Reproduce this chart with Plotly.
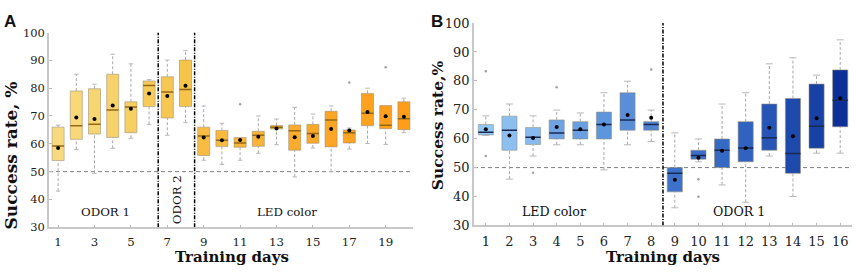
import plotly.graph_objects as go

# ---------------- Panel A data ----------------
days_a = list(range(1, 21))
q1_a = [54.0, 61.6, 63.5, 62.3, 64.0, 73.4, 69.3, 73.4, 55.8, 59.0, 58.75, 59.1, 65.3, 57.7, 60.2, 58.9, 60.3, 66.5, 65.45, 65.1]
med_a = [59.2, 66.5, 67.0, 72.2, 73.2, 81.0, 78.6, 79.5, 62.8, 61.25, 60.3, 63.1, 66.0, 64.7, 63.75, 68.6, 64.0, 71.0, 66.7, 69.0]
q3_a = [66.0, 79.0, 79.8, 85.0, 75.1, 82.6, 84.1, 90.1, 66.0, 64.8, 62.3, 64.5, 66.6, 66.8, 67.0, 71.7, 65.0, 78.1, 73.75, 75.1]
mean_a = [58.5, 69.5, 68.9, 73.75, 72.6, 78.1, 77.2, 80.9, 62.3, 61.25, 61.4, 62.5, 65.5, 62.4, 62.8, 65.3, 64.8, 71.4, 69.9, 69.7]
upper_a = [66.7, 85.0, 81.4, 92.2, 88.75, 83.1, 90.1, 93.5, 73.6, 67.4, 62.3, 70.0, 68.9, 73.1, 70.7, 73.6, 65.7, 80.0, 73.75, 76.4]
lower_a = [43.0, 58.0, 49.4, 58.4, 62.0, 67.0, 63.1, 67.6, 54.1, 52.6, 54.1, 56.6, 59.7, 48.1, 58.5, 50.0, 58.1, 60.1, 59.8, 64.0]
out_day_a = [11, 17, 19]
out_val_a = [74.2, 82.0, 87.5]
colors_a = ["#F8DA7E", "#F8D878", "#F7D571", "#F7D26A", "#F7CF62", "#F6CB5A", "#F6C752", "#F6C34B",
            "#F9BC42", "#F9B83E", "#FAB53A", "#FBB236", "#FCAF31", "#FCAB2C", "#FDA928", "#FDA625",
            "#FEA422", "#FEA11E", "#FF9F1B", "#FF9D18"]
phase_bounds_a = [6.5, 8.5]
xticks_a = [1, 3, 5, 7, 9, 11, 13, 15, 17, 19]

# ---------------- Panel B data ----------------
days_b = list(range(1, 17))
q1_b = [61.3, 56.0, 58.0, 59.9, 59.9, 59.9, 62.9, 62.9, 41.6, 52.9, 50.0, 52.0, 56.0, 48.0, 56.7, 64.1]
med_b = [62.2, 62.9, 60.5, 62.0, 62.9, 64.9, 66.5, 64.9, 48.0, 54.2, 56.0, 56.8, 60.3, 54.9, 64.3, 73.3]
q3_b = [64.9, 67.8, 63.9, 66.5, 65.9, 69.2, 75.9, 65.9, 50.0, 56.0, 59.9, 65.9, 72.0, 73.9, 78.9, 83.8]
mean_b = [63.3, 61.1, 60.2, 64.0, 63.3, 64.9, 68.2, 67.2, 45.8, 53.4, 55.8, 56.7, 63.8, 60.8, 67.1, 74.0]
upper_b = [67.9, 72.0, 67.9, 69.9, 68.9, 75.9, 79.9, 69.9, 62.0, 59.9, 72.0, 75.9, 85.9, 88.0, 82.0, 94.2]
lower_b = [61.1, 46.0, 54.0, 57.9, 57.9, 49.2, 57.9, 59.0, 36.1, 52.0, 44.0, 38.0, 54.0, 40.0, 55.0, 55.0]
out_day_b = [1, 1, 3, 4, 8, 10, 10]
out_val_b = [83.3, 54.0, 48.2, 77.8, 83.9, 46.0, 39.9]
colors_b = ["#90C8F4", "#8CBFEF", "#88BAEE", "#6EA4E3", "#6AA0E2", "#5E96DD", "#5A8ED8", "#4E84D2",
            "#3C72CA", "#3A6EC8", "#3469C4", "#3063C0", "#2755B7", "#1E4AAE", "#1741A5", "#0C3097"]
phase_bounds_b = [8.5]
xticks_b = list(range(1, 17))

chance_level = 50
y_range = [30, 100]
y_ticks = [30, 40, 50, 60, 70, 80, 90, 100]

W, H = 856, 275
SERIF = "DejaVu Serif"

fig = go.Figure()


def add_panel(days, q1, med, q3, mean, upper, lower, od, ov, colors, xa, ya,
              box_w, cap_w, med_color, outline):
    # whiskers (dashed)
    wx, wy = [], []
    for d, a, b, lo, hi in zip(days, q1, q3, lower, upper):
        if hi > b:
            wx += [d, d, None]; wy += [b, hi, None]
        if lo < a:
            wx += [d, d, None]; wy += [lo, a, None]
    fig.add_trace(go.Scatter(x=wx, y=wy, mode="lines", xaxis=xa, yaxis=ya,
                             line=dict(color="#A8A8A8", width=1, dash="3px,2px"),
                             hoverinfo="skip", showlegend=False))
    # caps
    cx, cy = [], []
    for d, a, b, lo, hi in zip(days, q1, q3, lower, upper):
        if hi > b:
            cx += [d - cap_w / 2, d + cap_w / 2, None]; cy += [hi, hi, None]
        if lo < a:
            cx += [d - cap_w / 2, d + cap_w / 2, None]; cy += [lo, lo, None]
    fig.add_trace(go.Scatter(x=cx, y=cy, mode="lines", xaxis=xa, yaxis=ya,
                             line=dict(color="#B8B8B8", width=1),
                             hoverinfo="skip", showlegend=False))
    # boxes
    fig.add_trace(go.Bar(x=days, y=[b - a for a, b in zip(q1, q3)], base=q1,
                         width=box_w, xaxis=xa, yaxis=ya,
                         marker=dict(color=colors, line=dict(color=outline, width=1)),
                         showlegend=False))
    # medians
    mx, my = [], []
    for d, m in zip(days, med):
        mx += [d - box_w / 2, d + box_w / 2, None]; my += [m, m, None]
    fig.add_trace(go.Scatter(x=mx, y=my, mode="lines", xaxis=xa, yaxis=ya,
                             line=dict(color=med_color, width=1.5),
                             hoverinfo="skip", showlegend=False))
    # means
    fig.add_trace(go.Scatter(x=days, y=mean, mode="markers", xaxis=xa, yaxis=ya,
                             marker=dict(color="black", size=4),
                             showlegend=False))
    # outliers
    fig.add_trace(go.Scatter(x=od, y=ov, mode="markers", xaxis=xa, yaxis=ya,
                             marker=dict(color="#A0A0A0", size=2.5),
                             showlegend=False))


add_panel(days_a, q1_a, med_a, q3_a, mean_a, upper_a, lower_a, out_day_a, out_val_a,
          colors_a, "x", "y", 0.66, 0.25, "#936814", "rgba(150,140,120,0.55)")
add_panel(days_b, q1_b, med_b, q3_b, mean_b, upper_b, lower_b, out_day_b, out_val_b,
          colors_b, "x2", "y2", 0.64, 0.3, "#1B2A55", "rgba(150,140,120,0.55)")

shapes = []
for xr, yr, rng in [("x", "y", [0.5, 20.5]), ("x2", "y2", [0.5, 16.5])]:
    shapes.append(dict(type="line", xref=xr, yref=yr, x0=rng[0], x1=rng[1],
                       y0=chance_level, y1=chance_level,
                       line=dict(color="#808080", width=1, dash="4px,3px"), layer="below"))
for xb in phase_bounds_a:
    shapes.append(dict(type="line", xref="x", yref="y", x0=xb, x1=xb, y0=y_range[0], y1=y_range[1],
                       line=dict(color="black", width=1.5, dash="4px,1.5px,1px,1.5px")))
for xb in phase_bounds_b:
    shapes.append(dict(type="line", xref="x2", yref="y2", x0=xb, x1=xb, y0=y_range[0], y1=y_range[1],
                       line=dict(color="black", width=1.5, dash="4px,1.5px,1px,1.5px")))

axis_common = dict(showgrid=False, zeroline=False, showline=True, linecolor="#C8C8C8", linewidth=1.5,
                   ticks="inside", ticklen=3, tickcolor="#BBBBBB", tickwidth=1)


def px(xp):
    return xp / W


def py(yp):
    return 1 - yp / H


def pann(text, x, y, size, family, angle=0, xanchor="center", yanchor="middle"):
    return dict(text=text, x=px(x), y=py(y), xref="paper", yref="paper", xanchor=xanchor,
                yanchor=yanchor, textangle=angle, showarrow=False,
                font=dict(family=family, size=size, color="#111"))


ann = [
    pann("<b>A</b>", 2, 3, 17, "Liberation Sans", xanchor="left", yanchor="top"),
    pann("<b>B</b>", 429, 3, 17, "Liberation Sans", xanchor="left", yanchor="top"),
    pann("<b>Success rate, %</b>", 11, 157, 17, SERIF, angle=-90),
    pann("<b>Success rate,%</b>", 437, 125, 15.5, SERIF, angle=-90),
    pann("<b>Training days</b>", 232, 264, 15, SERIF),
    pann("<b>Training days</b>", 663, 264, 15, SERIF),
]
# phase labels
ann.append(dict(text="ODOR 1", x=3.6, y=35.4, xref="x", yref="y", showarrow=False,
                xanchor="center", yanchor="middle", font=dict(family=SERIF, size=11.8, color="#111")))
ann.append(dict(text="ODOR 2", x=7.5, y=39.9, xref="x", yref="y", showarrow=False, textangle=-90,
                xanchor="center", yanchor="middle", font=dict(family=SERIF, size=11.8, color="#111")))
ann.append(dict(text="LED color", x=13.6, y=35.4, xref="x", yref="y", showarrow=False,
                xanchor="center", yanchor="middle", font=dict(family=SERIF, size=11.8, color="#111")))
ann.append(dict(text="LED color", x=3.9, y=34.9, xref="x2", yref="y2", showarrow=False,
                xanchor="center", yanchor="middle", font=dict(family=SERIF, size=12.6, color="#111")))
ann.append(dict(text="ODOR 1", x=11.7, y=34.9, xref="x2", yref="y2", showarrow=False,
                xanchor="center", yanchor="middle", font=dict(family=SERIF, size=12.6, color="#111")))

fig.update_layout(
    width=W, height=H, margin=dict(l=0, r=0, t=0, b=0),
    plot_bgcolor="white", paper_bgcolor="white", barmode="overlay", showlegend=False,
    shapes=shapes, annotations=ann,
    xaxis=dict(domain=[px(49), px(413)], range=[0.5, 20.5], tickmode="array", tickvals=xticks_a,
               anchor="y", ticklabelstandoff=3,
               tickfont=dict(family=SERIF, size=11.8, color="#222"), **axis_common),
    yaxis=dict(domain=[py(233), py(27)], range=y_range, tickmode="array", tickvals=y_ticks,
               anchor="x", tickfont=dict(family=SERIF, size=11.5, color="#222"), **axis_common),
    xaxis2=dict(domain=[px(474), px(852)], range=[0.5, 16.5], tickmode="array", tickvals=xticks_b,
                anchor="y2", ticklabelstandoff=3,
                tickfont=dict(family=SERIF, size=13, color="#222"), **axis_common),
    yaxis2=dict(domain=[py(231), py(17)], range=y_range, tickmode="array", tickvals=y_ticks,
                anchor="x2", tickfont=dict(family=SERIF, size=13, color="#222"), **axis_common),
)

fig.write_html("out.html", config={"displayModeBar": False},
               post_script="document.body.style.margin='0';")
